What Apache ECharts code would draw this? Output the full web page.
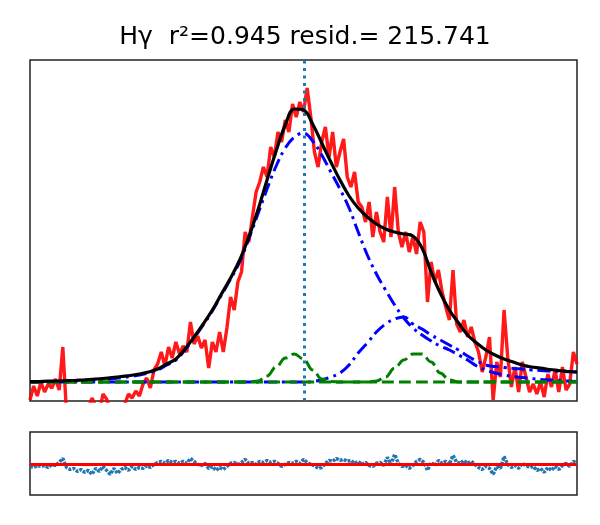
<!DOCTYPE html>
<html>
<head>
<meta charset="utf-8">
<script src="https://cdn.jsdelivr.net/npm/echarts@6/dist/echarts.min.js"></script>
<style>
  html, body { margin: 0; background: #fff; }
  #chart { width: 600px; height: 525px; }
</style>
</head>
<body>
<div id="chart"></div>
<script>
// wavelength grids (Angstrom)
const specStart = 4190, specStep = 2;
const modelStart = 4190, modelStep = 5;
const hGammaWave = 4340.47;

// observed spectrum (continuum subtracted)
const flux = [-18,-4,-14,0,-10,-2,-6,3,-8,35,
  -30,-40,-35,-28,-38,-30,-26,-16,-24,-32,
  -12,-17,-28,-36,-30,-26,-22,-12,-16,-9,
  -14,-2,4,-6,12,18,30,16,35,24,
  40,28,36,30,60,38,46,34,42,14,
  40,30,50,30,54,85,72,100,110,150,
  140,165,190,200,215,205,235,225,250,240,
  262,250,278,265,280,270,294,265,230,215,
  240,255,225,250,215,230,243,205,195,210,
  180,175,160,180,145,170,150,140,185,145,
  195,150,135,150,130,145,128,160,150,80,
  120,100,112,90,75,62,112,58,50,62,
  45,55,40,30,10,25,45,-18,20,5,
  72,25,-5,15,-10,20,5,-10,-2,-12,
  0,-15,8,-5,12,-10,15,-8,-2,30,
  18];

// total fit
const fitTotal = [0.3,0.5,0.8,1,1.3,1.7,2.2,2.8,3.5,4.4,
  5.5,6.5,8,10,13,18,23,33,45,58,
  72,88,104,122,145,172,202,231,257,273,
  272,258,239,220,202,186,174,165,158,153,
  150,148,146,134,110,89,72,59,47,39,
  32,27,23,20,17,15,14,12.5,11.5,10.5,
  10];

// broad components
const broadMain = [0,0,0.2,0.4,0.6,0.9,1.3,1.8,2.5,3.3,
  4.4,5.5,7,9,12,17,22,32,44,57,
  71,87,103,120,143,168,193,216,234,245,
  249,241,227,210,193,174,150,127,108,92,
  77,64,54,47,41,36,32,27,22,16,
  12,9,7,5.5,4.5,3.5,2.5,2,1.5,1,
  0.5];
const broadRed = [0,0,0,0,0,0,0,0,0,0,
  0,0,0,0,0,0,0,0,0,0,
  0,0,0,0,0,0,0,0,0,0,
  0,0.5,2,5,9,17,29,39,50,58,
  63,65,58,53,47,42,37,32,26,21,
  17,15.5,14.5,13.5,13,12,11.5,11,10.7,10.3,
  10];

// narrow components
const narrowMain = [0,0,0,0,0,0,0,0,0,0,
  0,0,0,0,0,0,0,0,0,0,
  0,0,0,0,0,1,6,15,24,28,
  23,12,3,0.5,0,0,0,0,0,0,
  0,0,0,0,0,0,0,0,0,0,
  0,0,0,0,0,0,0,0,0,0,
  0];
const narrowRed = [0,0,0,0,0,0,0,0,0,0,
  0,0,0,0,0,0,0,0,0,0,
  0,0,0,0,0,0,0,0,0,0,
  0,0,0,0,0,0,0,0,1,5,
  14,22,28,28,20,9,2,0,0,0,
  0,0,0,0,0,0,0,0,0,0,
  0];

// residuals (data - fit)
const resid = [-11,-17,-6,-11,-6,-17,0,-6,11,33,
  -17,-28,-22,-39,-28,-44,-33,-55,-22,-39,
  -11,-33,-55,-22,-50,-28,-17,-33,-11,-28,
  -17,-22,-6,-17,0,11,17,6,22,11,
  17,6,17,6,33,17,0,-6,6,-22,
  -11,-33,-17,-28,-11,6,11,0,11,28,
  6,11,0,17,11,22,11,17,6,-11,
  0,11,6,17,6,28,11,0,-6,-22,
  -17,6,22,17,33,22,28,17,22,6,
  17,0,11,-6,-11,6,11,-6,39,0,
  55,6,-11,-6,-22,-6,17,28,11,-33,
  11,-6,22,6,17,0,50,11,6,22,
  6,17,0,-17,-28,-11,-22,-55,-11,-22,
  44,0,-17,-6,-22,6,-6,-17,-11,-33,
  -22,-44,-17,-33,-11,-28,-6,6,-11,17,
  6];

const r2 = 0.945, residSum = 215.741;

function pairs(start, step, ys) {
  return ys.map((y, i) => [start + step * i, y]);
}

const chart = echarts.init(document.getElementById('chart'), null, { renderer: 'canvas' });

const dashDot = [13, 5, 3, 5];
const dashed = [12, 5];

const option = {
  animation: false,
  backgroundColor: '#fff',
  title: {
    text: 'Hγ  r²=' + r2.toFixed(3) + ' resid.= ' + residSum.toFixed(3),
    left: 300,
    textAlign: 'center',
    top: 20,
    textStyle: { fontFamily: 'DejaVu Sans', fontSize: 25, fontWeight: 'normal', color: '#000' }
  },
  grid: [
    { left: 30, top: 60, width: 547, height: 341, show: true, borderColor: '#222', borderWidth: 1.5 },
    { left: 30, top: 432, width: 547, height: 63, show: true, borderColor: '#222', borderWidth: 1.5 }
  ],
  xAxis: [
    { gridIndex: 0, type: 'value', min: 4190, max: 4490, show: false },
    { gridIndex: 1, type: 'value', min: 4190, max: 4490, show: false }
  ],
  yAxis: [
    { gridIndex: 0, type: 'value', min: -19, max: 322, show: false },
    { gridIndex: 1, type: 'value', min: -170, max: 180, show: false }
  ],
  series: [
    {
      name: 'data', type: 'line', showSymbol: false, z: 2,
      data: pairs(specStart, specStep, flux),
      lineStyle: { color: '#ff0000', width: 3.4, opacity: 0.9 }
    },
    {
      name: 'broad', type: 'line', showSymbol: false, smooth: 0.4, z: 3,
      data: pairs(modelStart, modelStep, broadMain),
      lineStyle: { color: '#0000ff', width: 3, type: dashDot }
    },
    {
      name: 'broad2', type: 'line', showSymbol: false, smooth: 0.4, z: 3,
      data: pairs(modelStart, modelStep, broadRed),
      lineStyle: { color: '#0000ff', width: 3, type: dashDot }
    },
    {
      name: 'narrow', type: 'line', showSymbol: false, smooth: 0.4, smoothMonotone: 'x', z: 4,
      data: pairs(modelStart, modelStep, narrowMain),
      lineStyle: { color: '#008000', width: 3, type: dashed }
    },
    {
      name: 'narrow2', type: 'line', showSymbol: false, smooth: 0.4, smoothMonotone: 'x', z: 4,
      data: pairs(modelStart, modelStep, narrowRed),
      lineStyle: { color: '#008000', width: 3, type: dashed }
    },
    {
      name: 'fit', type: 'line', showSymbol: false, smooth: 0.4, z: 5,
      data: pairs(modelStart, modelStep, fitTotal),
      lineStyle: { color: '#000', width: 3.2 }
    },
    {
      name: 'line centre', type: 'line', data: [], z: 6,
      markLine: {
        silent: true, symbol: 'none', label: { show: false },
        lineStyle: { color: '#1f77b4', width: 3, type: [3, 4.5] },
        data: [{ xAxis: hGammaWave }]
      }
    },
    {
      name: 'resid', type: 'line', showSymbol: false, xAxisIndex: 1, yAxisIndex: 1, z: 2,
      data: pairs(specStart, specStep, resid),
      lineStyle: { color: '#1f77b4', width: 3.5, type: [3, 1.2] }
    },
    {
      name: 'zero', type: 'line', data: [], xAxisIndex: 1, yAxisIndex: 1, z: 6,
      markLine: {
        silent: true, symbol: 'none', label: { show: false },
        lineStyle: { color: '#ff0000', width: 3, type: 'solid' },
        data: [{ yAxis: 0 }]
      }
    }
  ]
};

chart.setOption(option);
</script>
</body>
</html>
